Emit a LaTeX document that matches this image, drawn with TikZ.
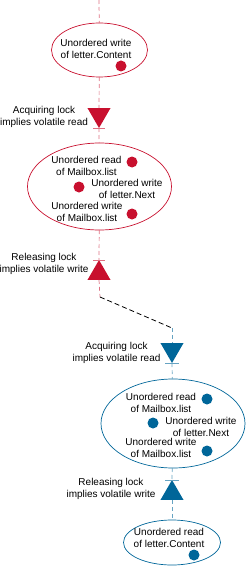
\documentclass[tikz,border=0pt]{standalone}
\usepackage{fontspec}
\setmainfont{Liberation Sans}
\usetikzlibrary{shapes.geometric}
\definecolor{lockred}{RGB}{200,16,46}
\definecolor{lockblue}{RGB}{0,102,153}

\begin{document}
\begin{tikzpicture}[x=1pt,y=-1pt,
  evt/.style={ellipse,draw=#1,line width=0.7pt,inner sep=0pt,outer sep=0pt},
  txt/.style={align=center,font=\fontsize{10}{12}\selectfont,inner sep=0pt},
  dot/.style={circle,fill=#1,minimum size=11pt,inner sep=0pt},
  acq/.style={regular polygon,regular polygon sides=3,shape border rotate=180,
              fill=#1,minimum size=26.6pt,inner sep=0pt,outer sep=0pt,anchor=corner 1},
  rel/.style={regular polygon,regular polygon sides=3,
              fill=#1,minimum size=26.6pt,inner sep=0pt,outer sep=0pt,anchor=corner 1},
  link/.style={dash pattern=on 4pt off 3pt,line width=0.7pt,draw=#1!60},
  tick/.style={line width=0.7pt,draw=#1!60},
  hand/.style={dash pattern=on 5pt off 3pt,line width=0.8pt,draw=black}
]
  \useasboundingbox (0,0) rectangle (246,567);

% ---------------- Thread 1 (red) ----------------
  \coordinate (entry) at (99,0);
  \node[evt=lockred,minimum width=96pt,minimum height=54pt] (wr1) at (99.5,50) {};
  \node[txt] (wr1t) at (96,49) {Unordered write\\of letter.Content};
  \node[dot=lockred] (wr1d) at (121,66) {};

  \node[acq=lockred] (acq1) at (99,128) {};
  \node[txt] (acq1l) at (44,117) {Acquiring lock\\implies volatile read};

  \node[evt=lockred,minimum width=144pt,minimum height=87pt] (blk1) at (99.5,186.5) {};
  \node[txt] (blk1a) at (86.5,165.5) {Unordered read\\of Mailbox.list};
  \node[dot=lockred] (blk1ad) at (132,162) {};
  \node[txt] (blk1b) at (127,189) {Unordered write\\of letter.Next};
  \node[dot=lockred] (blk1bd) at (79,187) {};
  \node[txt] (blk1c) at (87,211.5) {Unordered write\\of Mailbox.list};
  \node[dot=lockred] (blk1cd) at (132,214) {};

  \node[rel=lockred] (rel1) at (99,260) {};
  \node[txt] (rel1l) at (44,264) {Releasing lock\\implies volatile write};

  \coordinate (hop1) at (100,297);
  \coordinate (hop2) at (172,328);

% ---------------- Thread 2 (blue) ----------------
  \node[acq=lockblue] (acq2) at (172,363) {};
  \node[txt] (acq2l) at (116.5,352.5) {Acquiring lock\\implies volatile read};

  \node[evt=lockblue,minimum width=144pt,minimum height=89pt] (blk2) at (173,423.5) {};
  \node[txt] (blk2a) at (161,402.5) {Unordered read\\of Mailbox.list};
  \node[dot=lockblue] (blk2ad) at (207,399) {};
  \node[txt] (blk2b) at (201,426.5) {Unordered write\\of letter.Next};
  \node[dot=lockblue] (blk2bd) at (153,423) {};
  \node[txt] (blk2c) at (161,447.5) {Unordered write\\of Mailbox.list};
  \node[dot=lockblue] (blk2cd) at (207,451) {};

  \node[rel=lockblue] (rel2) at (172,480) {};
  \node[txt] (rel2l) at (111,489) {Releasing lock\\implies volatile write};

  \node[evt=lockblue,minimum width=97pt,minimum height=45pt] (rd2) at (172,542.5) {};
  \node[txt] (rd2t) at (169,538) {Unordered read\\of letter.Content};
  \node[dot=lockblue] (rd2d) at (194,555) {};

% ---------------- Connectors ----------------
  \draw[link=lockred] (entry) -- (wr1);
  \draw[link=lockred] (wr1) -- (acq1.north);
  \draw[link=lockred] (acq1.corner 1) -- (blk1);
  \draw[link=lockred] (blk1) -- (rel1.corner 1);
  \draw[link=lockred] (rel1.south) -- (hop1);
  \draw[hand] (hop1) -- (hop2);
  \draw[link=lockblue] (hop2) -- (acq2.north);
  \draw[link=lockblue] (acq2.corner 1) -- (blk2);
  \draw[link=lockblue] (blk2) -- (rel2.corner 1);
  \draw[link=lockblue] (rel2.south) -- (rd2);

  \draw[tick=lockred] ([xshift=-6pt]acq1.corner 1) -- ([xshift=6pt]acq1.corner 1);
  \draw[tick=lockred] ([xshift=-6pt]rel1.corner 1) -- ([xshift=6pt]rel1.corner 1);
  \draw[tick=lockblue] ([xshift=-7pt]acq2.corner 1) -- ([xshift=7pt]acq2.corner 1);
  \draw[tick=lockblue] ([xshift=-7pt]rel2.corner 1) -- ([xshift=7pt]rel2.corner 1);
\end{tikzpicture}
\end{document}
